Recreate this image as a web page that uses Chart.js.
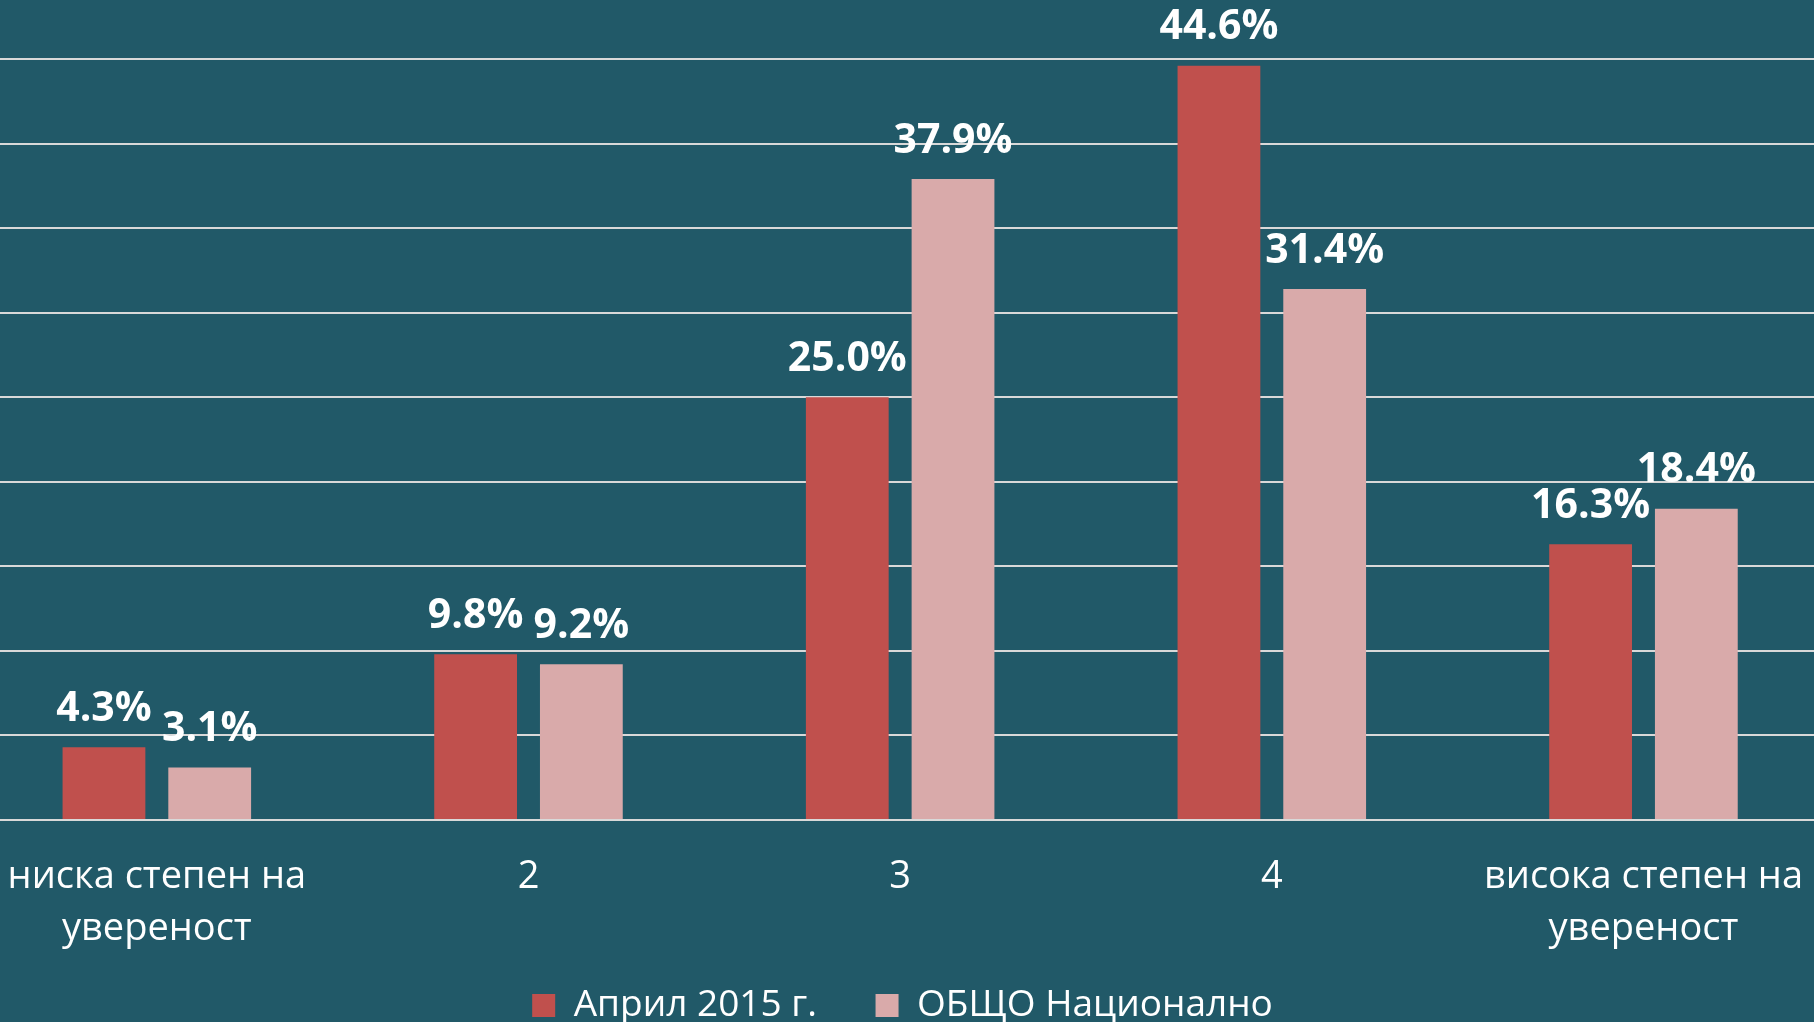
<!DOCTYPE html>
<html>
<head>
<meta charset="utf-8">
<script src="https://cdn.jsdelivr.net/npm/chart.js@4"></script>
<style>
    html, body { margin: 0; padding: 0; background: #215968; overflow: hidden; }
    #wrap { position: absolute; left: -29px; top: 0; width: 1863px; height: 1034px; }
</style>
</head>
<body>
<div id="wrap"><canvas id="chart" width="1863" height="1034"></canvas></div>
<script>
// данни
const categories = [['ниска степен на', 'увереност'], '2', '3', '4', ['висока степен на', 'увереност']];
const seriesNames = ['Април 2015 г.', 'ОБЩО Национално'];
const april2015 = [4.3, 9.8, 25.0, 44.6, 16.3];
const national = [3.1, 9.2, 37.9, 31.4, 18.4];
const colors = ['#C0504D', '#D9AAAA'];

// надписи над колоните
const valueLabels = {
    id: 'valueLabels',
    afterDatasetsDraw(chart) {
        const ctx = chart.ctx;
        ctx.save();
        ctx.fillStyle = '#FFFFFF';
        ctx.font = 'bold 41px "Open Sans"';
        ctx.textAlign = 'center';
        ctx.textBaseline = 'middle';
        chart.data.datasets.forEach((ds, i) => {
            chart.getDatasetMeta(i).data.forEach((bar, j) => {
                ctx.fillText(ds.data[j].toFixed(1) + '%', bar.x, bar.y - 38);
            });
        });
        ctx.restore();
    }
};

new Chart(document.getElementById('chart'), {
    type: 'bar',
    data: {
        labels: categories,
        datasets: [
            { label: seriesNames[0], data: april2015, backgroundColor: colors[0] },
            { label: seriesNames[1], data: national, backgroundColor: colors[1] }
        ]
    },
    options: {
        responsive: false,
        animation: false,
        events: [],
        categoryPercentage: 0.569,
        barPercentage: 0.783,
        layout: { padding: { top: 59, bottom: 0, left: 0, right: 0 } },
        plugins: {
            legend: {
                position: 'bottom',
                labels: {
                    color: '#FFFFFF',
                    font: { family: 'Open Sans', size: 37 },
                    boxWidth: 23,
                    boxHeight: 23,
                    padding: 1,
                    generateLabels(chart) {
                        const items = Chart.defaults.plugins.legend.labels.generateLabels(chart);
                        // разстояние между елементите на легендата
                        items.forEach((it, i) => {
                            it.lineWidth = 0;
                            if (i < items.length - 1) it.text += '      ';
                        });
                        return items;
                    }
                }
            },
            tooltip: { enabled: false }
        },
        scales: {
            x: {
                grid: { display: false, drawTicks: false },
                border: { display: false },
                ticks: {
                    color: '#FFFFFF',
                    font: { family: 'Open Sans', size: 38, lineHeight: 1.37 },
                    padding: 31,
                    maxRotation: 0,
                    autoSkip: false
                }
            },
            y: {
                min: 0,
                max: 45,
                ticks: { display: false, stepSize: 5 },
                grid: { color: '#D9D9D9', lineWidth: 2, drawTicks: false },
                border: { display: false }
            }
        }
    },
    plugins: [valueLabels]
});
</script>
</body>
</html>
